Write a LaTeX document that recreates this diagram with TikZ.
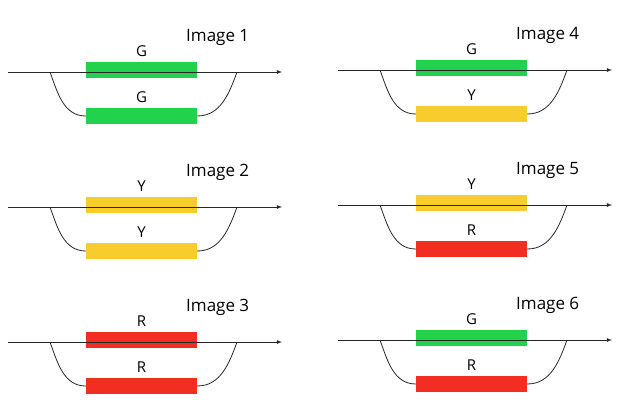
\documentclass[tikz,border=0pt]{standalone}
\usepackage{fontspec}
\setmainfont{Open Sans}
\usetikzlibrary{positioning}
\definecolor{sigG}{HTML}{22D24C}
\definecolor{sigY}{HTML}{F9CC2E}
\definecolor{sigR}{HTML}{F22E22}
\tikzset{
  bar/.style={draw=none,minimum width=111pt,minimum height=16pt,inner sep=0pt},
  sig/.style={font=\fontsize{15}{15}\selectfont,inner sep=0pt},
  title/.style={font=\fontsize{17}{17}\selectfont,inner sep=0pt,anchor=west},
  track/.style={line width=0.8pt,black!85},
}
\begin{document}
\begin{tikzpicture}[x=1pt,y=-1pt]
\useasboundingbox (0,0) rectangle (628,418);
\foreach \n/\cx/\cy/\ct/\cb in {1/0/72/G/G,2/0/207/Y/Y,3/0/342/R/R,4/330/70/G/Y,5/330/205/Y/R,6/330/340/G/R}{
  \begin{scope}[shift={(\cx,\cy)}]
    %track
    \coordinate (in\n) at (8,0);
    \coordinate (out\n) at (282,0);
    \coordinate (sl\n) at (50,0);
    \coordinate (sr\n) at (237,0);
    \node[bar,fill=sig\ct] (top\n) at (141.5,-2) {};
    \node[bar,fill=sig\cb] (bot\n) at (141.5,44) {};
    \draw[track,-latex] (in\n)--(out\n);
    \draw[track] (sl\n) to[out=-70,in=180] (bot\n.west);
    \draw[track] (bot\n.east) to[out=0,in=-110] (sr\n);
    %labels
    \node[sig,above=5pt of top\n] (lt\n) {\ct};
    \node[sig,above=5pt of bot\n] (lb\n) {\cb};
    \node[title] (im\n) at (186,-35) {Image \n};
  \end{scope}
}
\end{tikzpicture}
\end{document}
